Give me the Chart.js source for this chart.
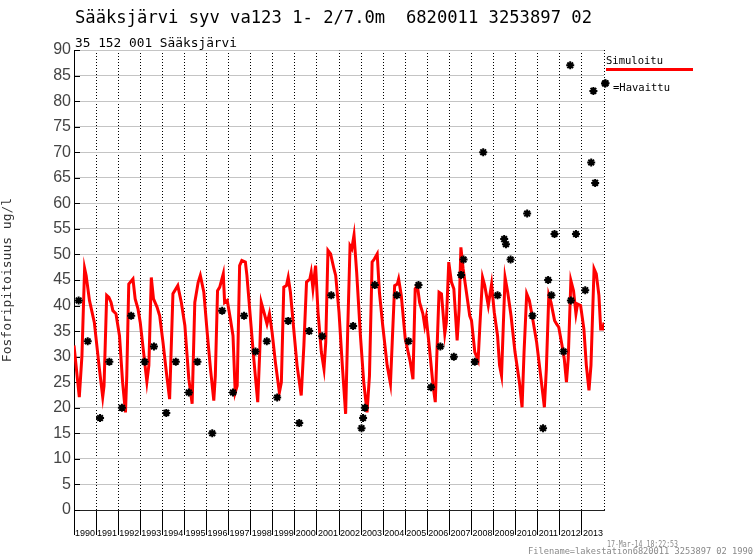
<!DOCTYPE html>
<html>
<head>
<meta charset="utf-8">
<script src="https://cdn.jsdelivr.net/npm/chart.js@4.4.1/dist/chart.umd.min.js"></script>
<style>
  html, body { margin: 0; padding: 0; background: #fff; }
  #wrap { width: 755px; height: 560px; }
</style>
</head>
<body>
<div id="wrap"><canvas id="chart" width="755" height="560"></canvas></div>
<script>
// Simulated total phosphorus (red line), decimal years
const simYears = [
  1990.00, 1990.24, 1990.36, 1990.48, 1990.55, 1990.70, 1990.92,
  1991.15, 1991.30, 1991.36, 1991.48, 1991.58, 1991.68, 1991.76, 1991.90,
  1992.06, 1992.20, 1992.33, 1992.39, 1992.48, 1992.67, 1992.77, 1992.90,
  1993.00, 1993.15, 1993.30, 1993.39, 1993.50, 1993.60, 1993.76, 1993.88,
  1994.03, 1994.20, 1994.33, 1994.48, 1994.70, 1994.86,
  1995.02, 1995.20, 1995.35, 1995.47, 1995.62, 1995.72, 1995.88,
  1996.03, 1996.18, 1996.33, 1996.40, 1996.50, 1996.60, 1996.76, 1996.82, 1996.94,
  1997.08, 1997.20, 1997.30, 1997.39, 1997.50, 1997.60, 1997.76, 1997.83, 1997.98,
  1998.14, 1998.32, 1998.41, 1998.48, 1998.62, 1998.74, 1998.85, 1998.97,
  1999.12, 1999.30, 1999.39, 1999.50, 1999.62, 1999.70, 1999.80, 1999.95,
  2000.10, 2000.29, 2000.41, 2000.53, 2000.68, 2000.74, 2000.82, 2000.94,
  2001.05, 2001.20, 2001.32, 2001.40, 2001.50, 2001.62, 2001.77, 2001.85,
  2002.00, 2002.15, 2002.30, 2002.40, 2002.50, 2002.58, 2002.68, 2002.80, 2002.97,
  2003.12, 2003.27, 2003.38, 2003.50, 2003.60, 2003.73, 2003.83, 2003.98,
  2004.18, 2004.33, 2004.41, 2004.52, 2004.64, 2004.70, 2004.82,
  2005.00, 2005.23, 2005.35, 2005.45, 2005.55, 2005.65, 2005.80, 2005.88, 2005.95,
  2006.10, 2006.26, 2006.36, 2006.45, 2006.53, 2006.64, 2006.79, 2006.86, 2006.97,
  2007.09, 2007.20, 2007.35, 2007.44, 2007.52, 2007.62, 2007.77, 2007.92,
  2008.00, 2008.15, 2008.30, 2008.38, 2008.50, 2008.60, 2008.76, 2008.91,
  2009.03, 2009.18, 2009.27, 2009.36, 2009.44, 2009.52, 2009.64, 2009.79, 2009.97,
  2010.17, 2010.29, 2010.38, 2010.50, 2010.62, 2010.77, 2010.95,
  2011.15, 2011.30, 2011.39, 2011.50, 2011.60, 2011.76, 2011.85, 2011.95,
  2012.10, 2012.20, 2012.30, 2012.38, 2012.50, 2012.62, 2012.73, 2012.80, 2012.94,
  2013.09, 2013.20, 2013.32, 2013.41, 2013.55, 2013.65, 2013.77, 2013.85, 2013.95, 2014.00
];
const simValues = [
  32.2, 22.1, 30.2, 47.3, 45.9, 41.0, 36.7,
  27.6, 22.1, 24.3, 42.0, 41.6, 40.6, 39.0, 38.4,
  34.1, 25.0, 19.1, 26.3, 44.2, 45.2, 41.3, 39.3,
  36.7, 30.9, 25.1, 28.3, 45.5, 41.3, 39.7, 38.0,
  32.8, 26.3, 21.7, 42.3, 43.9, 40.6,
  36.1, 25.6, 20.8, 40.6, 44.5, 45.9, 42.6,
  34.8, 27.6, 21.4, 26.3, 42.9, 43.6, 46.2, 40.6, 41.0,
  37.4, 34.1, 23.0, 24.3, 47.8, 48.8, 48.5, 45.9, 38.0,
  29.6, 21.1, 30.9, 40.6, 38.4, 36.4, 38.4, 34.8,
  28.9, 23.0, 25.0, 43.6, 43.9, 45.5, 42.6, 35.4,
  28.3, 22.4, 32.2, 44.6, 45.2, 46.5, 43.3, 47.8,
  38.7, 30.9, 27.6, 32.8, 50.8, 50.1, 47.2, 45.9,
  38.7, 28.3, 18.8, 36.1, 51.7, 51.1, 53.8, 46.5, 34.1,
  25.0, 19.1, 26.3, 48.5, 49.1, 50.1, 42.6, 36.1,
  28.3, 24.7, 32.8, 43.9, 44.2, 45.2, 42.0,
  33.5, 28.9, 25.6, 43.3, 43.9, 40.6, 38.4, 36.1, 37.7,
  31.5, 24.3, 21.1, 32.8, 42.6, 42.3, 34.5, 36.7, 48.5,
  44.6, 43.3, 33.2, 39.3, 51.4, 47.2, 42.6, 38.0,
  37.1, 30.9, 29.3, 36.1, 45.5, 43.9, 40.0, 44.2,
  38.7, 34.1, 28.3, 26.3, 36.1, 45.5, 42.6, 38.0, 30.9,
  25.0, 20.1, 30.9, 42.3, 41.0, 37.4, 32.8,
  25.6, 20.1, 27.6, 42.0, 40.6, 37.1, 36.4, 35.8,
  32.2, 29.6, 25.0, 29.6, 44.9, 42.9, 38.4, 40.3, 40.0,
  35.4, 28.3, 23.4, 28.3, 47.2, 46.2, 42.0, 35.4, 35.4, 36.7
];

// Observed values (asterisks)
const obsYears = [
  1990.21, 1990.62, 1991.18, 1991.60, 1992.17, 1992.59, 1993.20, 1993.62, 1994.18, 1994.61,
  1995.20, 1995.59, 1996.26, 1996.71, 1997.20, 1997.70, 1998.22, 1998.73, 1999.20, 1999.70,
  2000.20, 2000.65, 2001.24, 2001.65, 2002.64, 2003.02, 2003.09, 2003.17, 2003.62, 2004.62,
  2005.15, 2005.60, 2006.17, 2006.59, 2007.20, 2007.53, 2007.64, 2008.15, 2008.53, 2009.18,
  2009.48, 2009.56, 2009.77, 2010.52, 2010.76, 2011.24, 2011.47, 2011.62, 2011.76, 2012.17,
  2012.47, 2012.50, 2012.73, 2013.15, 2013.42, 2013.52, 2013.60, 2014.07
];
const obsValues = [
  41, 33, 18, 29, 20, 38, 29, 32, 19, 29,
  23, 29, 15, 39, 23, 38, 31, 33, 22, 37,
  17, 35, 34, 42, 36, 16, 18, 20, 44, 42,
  33, 44, 24, 32, 30, 46, 49, 29, 70, 42,
  53, 52, 49, 58, 38, 16, 45, 42, 54, 31,
  87, 41, 54, 43, 68, 82, 64, 83.5
];

const yearStart = 1990;
const yearEnd = 2014;
const yMax = 90;
const yStep = 5;

const titleText = 'Sääksjärvi syv va123 1- 2/7.0m  6820011 3253897 02';
const subtitleText = '35 152 001 Sääksjärvi';
const yTitle = 'Fosforipitoisuus ug/l';
const stampText = '17-Mar-14 18:22:53';
const fileText = 'Filename=lakestation6820011 3253897 02 1990';

// draw text squeezed/stretched to a given width
function fitText(ctx, text, x, y, w) {
  const m = ctx.measureText(text).width;
  ctx.save();
  ctx.translate(x, y);
  ctx.scale(w / m, 1);
  ctx.fillText(text, 0, 0);
  ctx.restore();
}

const innerTicks = {
  id: 'innerTicks',
  beforeDatasetsDraw(chart) {
    const { ctx, chartArea } = chart;
    const ys = chart.scales.y;
    ctx.save();
    ctx.strokeStyle = '#000';
    ctx.lineWidth = 1;
    ys.ticks.forEach(t => {
      const py = Math.round(ys.getPixelForValue(t.value)) + 0.5;
      ctx.beginPath();
      ctx.moveTo(chartArea.left, py);
      ctx.lineTo(chartArea.left + 6, py);
      ctx.stroke();
    });
    ctx.restore();
  }
};

const texts = {
  id: 'texts',
  afterDraw(chart) {
    const ctx = chart.ctx;
    ctx.save();
    ctx.fillStyle = '#000';
    ctx.textBaseline = 'alphabetic';
    ctx.textAlign = 'left';

    ctx.font = '18px "DejaVu Sans Mono"';
    fitText(ctx, titleText, 75, 23, 517);
    ctx.font = '12px "DejaVu Sans Mono"';
    fitText(ctx, subtitleText, 75, 46.5, 162);

    // legend
    ctx.font = '10px "DejaVu Sans Mono"';
    fitText(ctx, 'Simuloitu', 606, 64, 57);
    ctx.strokeStyle = '#ff0000';
    ctx.lineWidth = 3;
    ctx.beginPath();
    ctx.moveTo(606, 69.5);
    ctx.lineTo(693, 69.5);
    ctx.stroke();
    ctx.strokeStyle = '#000';
    ctx.lineWidth = 2;
    Chart.helpers.drawPoint(ctx, { pointStyle: 'star', radius: 4, borderWidth: 2, rotation: 0 }, 605, 83.5);
    fitText(ctx, '=Havaittu', 613, 90.5, 57);

    // footer stamp
    ctx.fillStyle = '#888';
    ctx.font = '8px "DejaVu Sans Mono"';
    fitText(ctx, stampText, 607, 546.5, 71);
    fitText(ctx, fileText, 528, 553.5, 225);
    ctx.restore();
  }
};

new Chart(document.getElementById('chart'), {
  type: 'scatter',
  data: {
    datasets: [
      {
        label: 'Simuloitu',
        data: simYears.map((x, i) => ({ x, y: simValues[i] })),
        showLine: true,
        borderColor: '#ff0000',
        borderWidth: 3,
        pointRadius: 0,
        tension: 0,
        order: 2
      },
      {
        label: '=Havaittu',
        data: obsYears.map((x, i) => ({ x, y: obsValues[i] })),
        showLine: false,
        pointStyle: 'star',
        pointRadius: 4,
        borderColor: '#000',
        backgroundColor: '#000',
        pointBorderWidth: 2,
        clip: false,
        order: 1
      }
    ]
  },
  options: {
    responsive: false,
    animation: false,
    devicePixelRatio: 1,
    layout: { padding: { left: 0, top: 50, right: 151, bottom: 0 } },
    plugins: {
      legend: { display: false },
      tooltip: { enabled: false }
    },
    scales: {
      x: {
        type: 'linear',
        min: yearStart,
        max: yearEnd,
        afterFit: s => { s.height = 50; },
        ticks: {
          stepSize: 1,
          autoSkip: false,
          maxRotation: 0,
          align: 'start',
          labelOffset: 1,
          padding: -7,
          color: '#000',
          font: { family: 'Liberation Sans', size: 9 },
          callback: v => (v < yearEnd ? String(v) : '')
        },
        grid: {
          color: '#000',
          lineWidth: 1,
          drawTicks: true,
          tickLength: 25,
          tickColor: c => (c.tick && c.tick.value === yearEnd ? 'rgba(0,0,0,0)' : '#000'),
          tickBorderDash: []
        },
        border: { display: true, color: '#222', width: 1, dash: [1, 2] }
      },
      y: {
        min: 0,
        max: yMax,
        afterFit: s => { s.width = 74; },
        ticks: {
          stepSize: yStep,
          padding: 3,
          color: '#444',
          font: { family: 'Liberation Sans', size: 16 }
        },
        grid: {
          color: '#c4c4c4',
          lineWidth: 1,
          drawTicks: false
        },
        border: { display: true, color: '#000', width: 1 },
        title: {
          display: true,
          text: yTitle,
          color: '#333',
          padding: 0,
          font: { family: 'DejaVu Sans Mono', size: 13 }
        }
      }
    }
  },
  plugins: [innerTicks, texts]
});
</script>
</body>
</html>
